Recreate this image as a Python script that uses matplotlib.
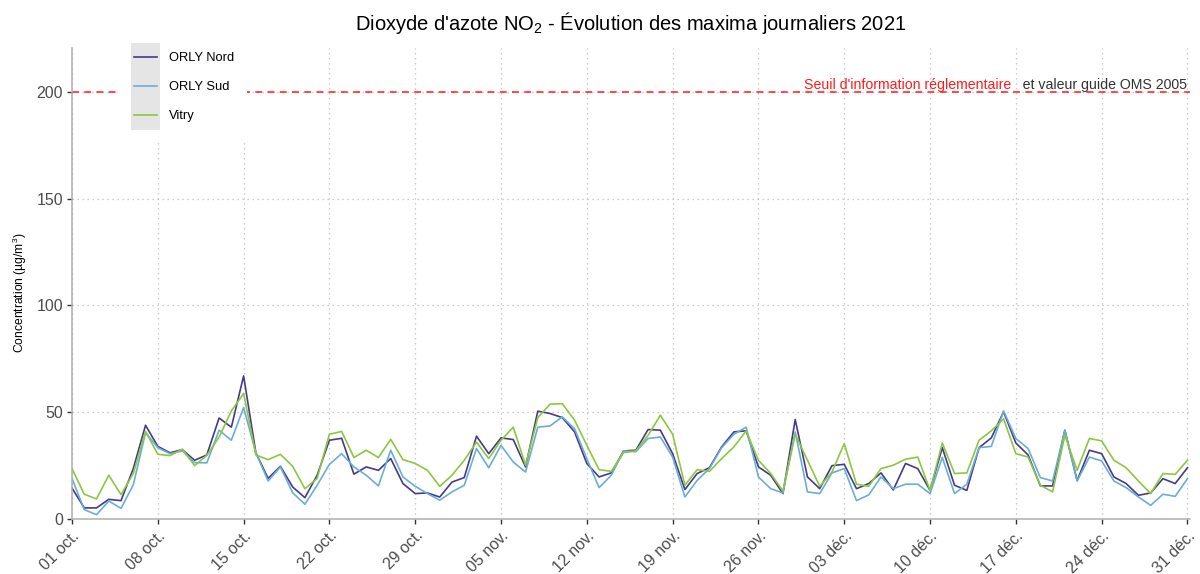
import numpy as np
import pandas as pd
import matplotlib
matplotlib.use('Agg')
import matplotlib.pyplot as plt
from matplotlib.lines import Line2D
from matplotlib.patches import Rectangle
from matplotlib.legend_handler import HandlerBase

plt.rcParams['font.family'] = ['Liberation Sans', 'DejaVu Sans']
plt.rcParams['mathtext.fontset'] = 'custom'
plt.rcParams['mathtext.rm'] = 'Liberation Sans'
plt.rcParams['mathtext.it'] = 'Liberation Sans:italic'
plt.rcParams['mathtext.bf'] = 'Liberation Sans:bold'

# ---------------- data ----------------
dates = pd.date_range('2021-10-01', '2021-12-31', freq='D')

orly_nord = [14.5, 5.2, 5.2, 9.2, 8.6, 23.6, 43.9, 34.0, 31.0, 32.5, 27.5, 30.0, 47.3, 43.0, 67.0, 31.0,
             19.0, 24.7, 15.0, 10.0, 20.5, 36.9, 37.8, 21.0, 24.4, 22.8, 28.3, 16.6, 11.9, 12.2, 10.3,
             17.3, 19.4, 38.8, 30.6, 38.0, 37.2, 24.4, 50.5, 49.4, 47.5, 40.8, 26.0, 19.7, 21.6, 31.9, 32.2,
             41.9, 41.6, 30.6, 13.8, 21.3, 24.0, 33.8, 40.8, 41.3, 24.4, 20.5, 11.9, 46.6, 19.7, 14.2,
             25.0, 25.6, 14.2, 16.6, 21.6, 13.6, 26.0, 23.6, 13.4, 33.4, 15.8, 13.4, 33.4, 38.0, 50.2, 35.6,
             30.0, 15.5, 15.5, 41.6, 18.0, 32.2, 30.6, 19.7, 16.6, 11.1, 12.2, 18.9, 16.6, 24.0]

orly_sud = [19.0, 4.4, 2.0, 8.4, 5.0, 16.0, 40.5, 33.4, 30.6, 31.9, 26.4, 26.3, 41.6, 36.9, 52.2, 31.0,
            17.8, 24.4, 12.3, 6.9, 15.8, 25.6, 30.6, 24.4, 20.5, 15.5, 32.2, 19.7, 15.3, 11.9, 8.8,
            12.7, 15.8, 33.0, 24.0, 34.5, 26.7, 22.0, 43.0, 43.6, 47.8, 42.3, 28.3, 14.7, 20.5, 31.9, 31.5,
            37.7, 38.4, 29.0, 10.3, 18.1, 23.6, 33.4, 39.7, 43.0, 19.7, 14.2, 12.2, 40.8, 12.7, 11.9,
            21.6, 23.6, 8.6, 11.3, 19.7, 14.2, 16.3, 16.3, 11.9, 28.8, 11.9, 16.3, 33.4, 34.0, 50.6, 37.7,
            33.0, 19.4, 17.8, 41.6, 17.8, 29.0, 27.2, 17.8, 14.7, 10.3, 6.4, 11.6, 10.6, 18.9]

vitry = [23.6, 11.6, 9.4, 20.5, 11.4, 21.3, 41.0, 30.3, 29.7, 32.7, 25.0, 29.8, 38.4, 50.6, 58.8, 30.0,
         27.8, 30.3, 24.7, 14.2, 19.0, 39.7, 41.0, 28.8, 32.2, 28.8, 37.3, 27.8, 26.0, 22.8, 15.3,
         20.5, 27.5, 36.0, 28.3, 36.9, 43.0, 25.2, 47.5, 53.8, 54.0, 46.3, 34.5, 23.1, 22.3, 31.1, 31.9,
         39.2, 48.6, 39.7, 15.8, 23.1, 22.3, 28.3, 33.8, 41.3, 27.5, 21.3, 13.1, 39.7, 27.5, 15.3,
         22.0, 35.3, 16.3, 15.3, 23.6, 25.2, 28.0, 29.0, 13.4, 35.6, 21.3, 21.6, 36.9, 41.3, 46.9, 30.6,
         29.0, 15.8, 12.7, 39.2, 22.8, 37.7, 36.6, 27.5, 24.0, 17.8, 11.9, 21.3, 20.9, 27.5]

series_names = ['ORLY Nord', 'ORLY Sud', 'Vitry']
series_colors = ['#463A8C', '#6AAED8', '#8DC73F']

seuil = 200
yticks = [0, 50, 100, 150, 200]
tick_dates = pd.date_range('2021-10-01', '2021-12-31', freq='7D')
tick_labels = ['01 oct.', '08 oct.', '15 oct.', '22 oct.', '29 oct.', '05 nov.', '12 nov.',
               '19 nov.', '26 nov.', '03 déc.', '10 déc.', '17 déc.', '24 déc.', '31 déc.']

# ---------------- figure ----------------
fig = plt.figure(figsize=(12, 5.74), dpi=100)
ax = fig.add_axes([0.06, 0.09582, 0.93167, 0.82056])

grid_style = dict(color='#BDBDBD', linestyle=(0, (1, 3)), linewidth=0.9)
ax.set_axisbelow(True)
ax.grid(True, **grid_style)

ax.axhline(seuil, color='#FF1A1A', lw=1.1, ls=(0, (4.5, 3.5)), zorder=1.5)

for vals, name, col in zip([orly_nord, orly_sud, vitry], series_names, series_colors):
    ax.plot(dates, vals, color=col, lw=1.2, label=name)

ax.set_xlim(dates[0], dates[-1] + pd.Timedelta(hours=5))
ax.set_ylim(0, 220.6)
ax.set_yticks(yticks)
ax.set_xticks(tick_dates)
ax.set_xticklabels(tick_labels)

for s in ['top', 'right']:
    ax.spines[s].set_visible(False)
for s in ['left', 'bottom']:
    ax.spines[s].set_color('#AFAFAF')
    ax.spines[s].set_linewidth(1.1)

ax.tick_params(axis='both', color='#333333', labelcolor='#4D4D4D', length=3.5, width=1,
               labelsize=11.5, pad=3)
for lbl in ax.get_xticklabels():
    lbl.set_rotation(45)
    lbl.set_ha('right')
    lbl.set_va('top')
    lbl.set_rotation_mode('anchor')

ax.set_ylabel('Concentration (µg/m$^3$)', fontsize=8.7, color='black')
ax.yaxis.set_label_coords(-0.0384, 0.48)

ax.set_title("Dioxyde d'azote NO$_2$ - Évolution des maxima journaliers 2021",
             fontsize=14.5, pad=13)

# threshold annotation
t2 = ax.text(dates[-1], seuil + 1.5, '   et valeur guide OMS 2005', color='#333333',
             ha='right', va='baseline', fontsize=10.2)
ax.annotate("Seuil d'information réglementaire", xy=(0, 0), xycoords=t2,
            ha='right', va='bottom', color='#FF1A1A', fontsize=10.2)

# legend with grey key background
class KeyHandler(HandlerBase):
    def create_artists(self, legend, orig_handle, xdescent, ydescent, width, height,
                       fontsize, trans):
        bg = Rectangle((-xdescent, -ydescent), width, height, facecolor='#E5E5E5',
                       edgecolor='none', transform=trans)
        inset = 0.1 * width
        yc = -ydescent + height / 2
        ln = Line2D([-xdescent + inset, -xdescent + width - inset], [yc, yc],
                    color=orig_handle.get_color(), lw=orig_handle.get_linewidth(),
                    transform=trans)
        return [bg, ln]

handles = ax.get_lines()[1:]
leg = ax.legend(handles=handles, labels=series_names, loc='upper left',
                bbox_to_anchor=(118 / 1200, 1 - 30 / 574), bbox_transform=fig.transFigure,
                borderaxespad=0, fontsize=9.3, frameon=True, facecolor='white',
                edgecolor='none', framealpha=1, fancybox=False,
                handlelength=2.245, handleheight=3.077, labelspacing=0,
                handletextpad=0.7, borderpad=1.0,
                handler_map={Line2D: KeyHandler()})

fig.savefig('out.png', dpi=100)
